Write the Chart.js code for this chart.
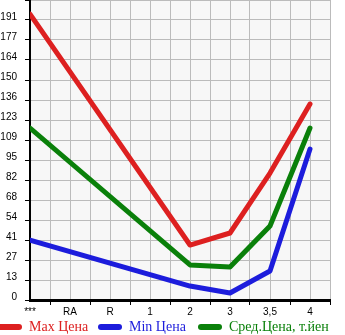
<!DOCTYPE html>
<html>
<head>
<meta charset="utf-8">
<script src="https://cdn.jsdelivr.net/npm/chart.js@4/dist/chart.umd.min.js"></script>
<style>
  html, body { margin: 0; padding: 0; background: #fff; }
  #wrap { position: relative; width: 345px; height: 335px; overflow: hidden; }
  #legend { position: absolute; left: 0; top: 318px; height: 18px; font-family: "Liberation Serif", serif; font-size: 14px; }
  .item { position: absolute; top: 0; white-space: nowrap; line-height: 18px; }
  .swatch { position: absolute; top: 6px; width: 24px; height: 6px; border-radius: 3px; }
  .label { position: absolute; top: 0; }
</style>
</head>
<body>
<div id="wrap">
  <canvas id="grafico" width="345" height="335"></canvas>
  <div id="legend"></div>
</div>
<script>
// categorías del eje X
const categorias = ['***', 'RA', 'R', '1', '2', '3', '3,5', '4'];

// precios por categoría (null = sin dato, la línea lo salta)
const precioMax = [195, null, null, null, 37.5, 45.7, 86.6, 133.7];
const precioMin = [40.9, null, null, null, 9.5, 4.8, 19.8, 103];
const precioMed = [117.3, null, null, null, 23.9, 22.5, 50.5, 117.3];

// etiquetas del eje Y
const etiquetasY = ['0', '13', '27', '41', '54', '68', '82', '95', '109', '123', '136', '150', '164', '177', '191', ''];
const pasoY = 191 / 14;

const series = [
    { label: 'Max Цена', data: precioMax, color: '#dd2020', left: -2 },
    { label: 'Min Цена', data: precioMin, color: '#1c1cdc', left: 98 },
    { label: 'Сред.Цена, т.йен', data: precioMed, color: '#0a800a', left: 198 }
];

// fondo gris claro del área del gráfico
const fondoArea = {
    id: 'fondoArea',
    beforeDraw(chart) {
        const { ctx, chartArea: a } = chart;
        ctx.save();
        ctx.fillStyle = '#f7f7f7';
        ctx.fillRect(a.left, a.top, a.right - a.left, a.bottom - a.top);
        ctx.restore();
    }
};

const ctx = document.getElementById('grafico').getContext('2d');
const chart = new Chart(ctx, {
    type: 'line',
    data: {
        datasets: series.map(s => ({
            label: s.label,
            data: s.data.map((v, i) => ({ x: i, y: v })),
            borderColor: s.color,
            backgroundColor: s.color,
            borderWidth: 5,
            borderCapStyle: 'round',
            borderJoinStyle: 'round',
            pointRadius: 0,
            spanGaps: true,
            tension: 0
        }))
    },
    options: {
        responsive: false,
        animation: false,
        devicePixelRatio: 1,
        layout: { padding: { top: 0, right: 15, bottom: 17, left: 0 } },
        plugins: { legend: { display: false }, tooltip: { enabled: false } },
        scales: {
            x: {
                type: 'linear',
                min: 0,
                max: 7.5,
                afterBuildTicks(scale) {
                    const t = [];
                    for (let i = 0; i <= 15; i++) t.push({ value: i / 2 });
                    scale.ticks = t;
                },
                afterFit(scale) {
                    scale.height = 18;
                    scale.paddingLeft = 0;
                    scale.paddingRight = 0;
                },
                grid: {
                    color: '#bbbbbb',
                    lineWidth: 1,
                    tickLength: 5,
                    tickColor: c => (c.tick && c.tick.value % 1 !== 0) ? '#000' : 'rgba(0,0,0,0)'
                },
                border: { color: '#000', width: 3 },
                ticks: {
                    autoSkip: false,
                    maxRotation: 0,
                    padding: 1,
                    color: '#000',
                    font: { family: 'Liberation Sans', size: 10 },
                    callback: v => Number.isInteger(v) ? categorias[v] : ''
                }
            },
            y: {
                type: 'linear',
                min: 0,
                max: pasoY * 15,
                afterBuildTicks(scale) {
                    const t = [];
                    for (let i = 0; i <= 15; i++) t.push({ value: pasoY * i });
                    scale.ticks = t;
                },
                afterFit(scale) {
                    scale.width = 30;
                    scale.paddingTop = 0;
                    scale.paddingBottom = 0;
                },
                grid: { color: '#bbbbbb', lineWidth: 1, tickLength: 5, tickColor: '#000' },
                border: { color: '#000', width: 2 },
                ticks: {
                    autoSkip: false,
                    padding: 8,
                    labelOffset: -3,
                    color: '#000',
                    font: { family: 'Liberation Sans', size: 10 },
                    callback: (v, i) => etiquetasY[i]
                }
            }
        }
    },
    plugins: [fondoArea]
});

// leyenda inferior
const leyenda = document.getElementById('legend');
chart.data.datasets.forEach((ds, i) => {
    const item = document.createElement('div');
    item.className = 'item';
    item.style.left = series[i].left + 'px';
    item.innerHTML = `
        <span class="swatch" style="background:${ds.borderColor};left:0"></span>
        <span class="label" style="color:${ds.borderColor};left:31px">${ds.label}</span>
    `;
    leyenda.appendChild(item);
});
</script>
</body>
</html>
